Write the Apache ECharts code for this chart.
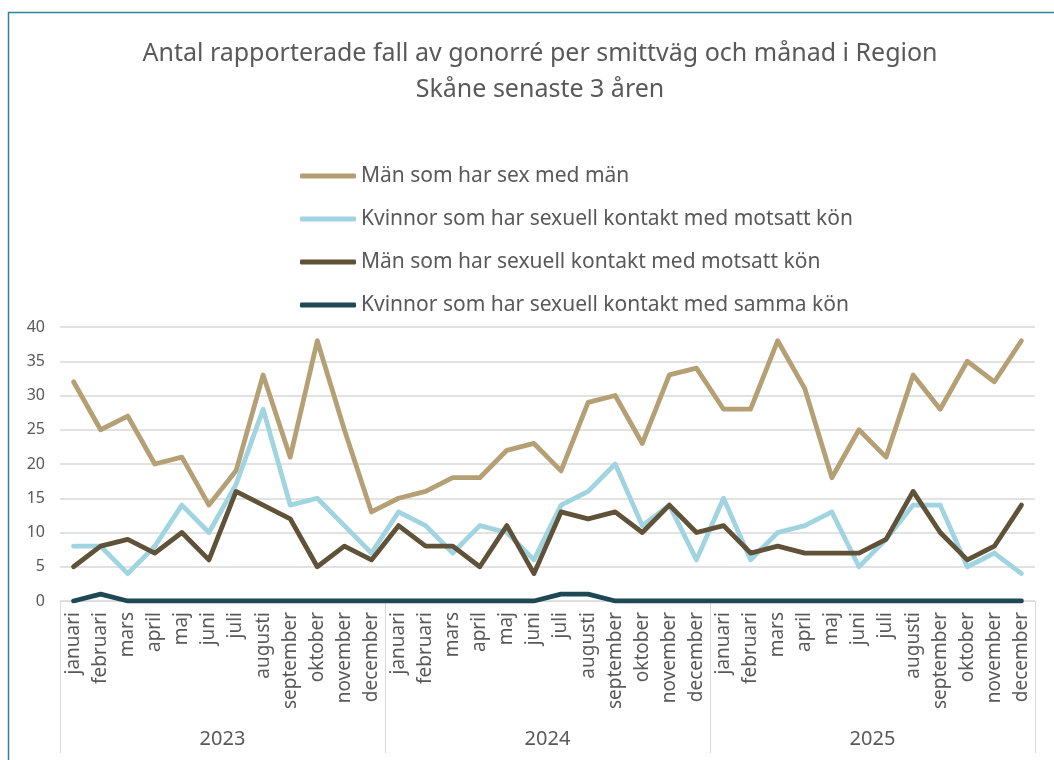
<!DOCTYPE html>
<html>
<head>
<meta charset="utf-8">
<script src="https://cdn.jsdelivr.net/npm/echarts@6/dist/echarts.min.js"></script>
<style>
  html, body { margin: 0; padding: 0; background: #fff; }
  #chart { width: 1054px; height: 760px; }
</style>
</head>
<body>
<div id="chart"></div>
<script>
// kategorier
const years = ['2023', '2024', '2025']
const monthNames = ['januari', 'februari', 'mars', 'april', 'maj', 'juni', 'juli',
  'augusti', 'september', 'oktober', 'november', 'december']
const months = years.flatMap(() => monthNames)

const seriesNames = [
  'Män som har sex med män',
  'Kvinnor som har sexuell kontakt med motsatt kön',
  'Män som har sexuell kontakt med motsatt kön',
  'Kvinnor som har sexuell kontakt med samma kön'
]

// 2023, 2024, 2025
const msm = [
  32, 25, 27, 20, 21, 14, 19, 33, 21, 38, 25, 13,
  15, 16, 18, 18, 22, 23, 19, 29, 30, 23, 33, 34,
  28, 28, 38, 31, 18, 25, 21, 33, 28, 35, 32, 38
]
const kvinnorMotsatt = [
  8, 8, 4, 8, 14, 10, 17, 28, 14, 15, 11, 7,
  13, 11, 7, 11, 10, 6, 14, 16, 20, 11, 14, 6,
  15, 6, 10, 11, 13, 5, 9, 14, 14, 5, 7, 4
]
const manMotsatt = [
  5, 8, 9, 7, 10, 6, 16, 14, 12, 5, 8, 6,
  11, 8, 8, 5, 11, 4, 13, 12, 13, 10, 14, 10,
  11, 7, 8, 7, 7, 7, 9, 16, 10, 6, 8, 14
]
const kvinnorSamma = [
  0, 1, 0, 0, 0, 0, 0, 0, 0, 0, 0, 0,
  0, 0, 0, 0, 0, 0, 1, 1, 0, 0, 0, 0,
  0, 0, 0, 0, 0, 0, 0, 0, 0, 0, 0, 0
]

const colors = ['#b4a074', '#a0d4e0', '#605238', '#1e4954']
const textColor = '#595959'
const font = 'Noto Sans'

const chart = echarts.init(document.getElementById('chart'))

function line(name, data, color) {
  return {
    name: name,
    type: 'line',
    xAxisIndex: 0,
    data: data,
    symbol: 'none',
    animation: false,
    lineStyle: { width: 4.8, color: color, cap: 'round', join: 'round' },
    itemStyle: { color: color }
  }
}

chart.setOption({
  textStyle: { fontFamily: font },
  title: {
    text: 'Antal rapporterade fall av gonorré per smittväg och månad i Region\nSkåne senaste 3 åren',
    left: 535,
    textAlign: 'center',
    top: 31,
    textStyle: {
      color: textColor,
      fontSize: 25,
      fontWeight: 'normal',
      lineHeight: 36,
      fontFamily: font
    }
  },
  legend: {
    orient: 'vertical',
    left: 295,
    top: 160,
    itemWidth: 56,
    itemHeight: 5,
    itemGap: 21,
    icon: 'roundRect',
    data: seriesNames,
    textStyle: { color: textColor, fontSize: 21, lineHeight: 22, padding: [0, 0, 0, 0] }
  },
  grid: {
    left: 60,
    right: 19,
    top: 327,
    bottom: 159,
    containLabel: false
  },
  graphic: [
    {
      type: 'rect',
      left: 6,
      top: 10,
      shape: { width: 1200, height: 900 },
      style: { fill: 'none', stroke: '#2b8499', lineWidth: 1.5 },
      silent: true
    }
  ],
  xAxis: [
    {
      type: 'category',
      position: 'bottom',
      data: months,
      axisLine: { show: true, lineStyle: { color: '#d9d9d9', width: 1 } },
      axisTick: { show: false },
      axisLabel: {
        rotate: 90,
        interval: 0,
        margin: 11,
        color: textColor,
        fontSize: 19
      }
    },
    {
      type: 'category',
      position: 'bottom',
      data: years,
      axisLine: { show: false },
      axisTick: { show: true, length: 152, lineStyle: { color: '#d9d9d9', width: 1 } },
      axisLabel: {
        margin: 128,
        color: textColor,
        fontSize: 20
      }
    }
  ],
  yAxis: {
    type: 'value',
    min: 0,
    max: 40,
    interval: 5,
    axisLine: { show: false },
    axisTick: { show: false },
    axisLabel: { color: textColor, fontSize: 16, margin: 15 },
    splitLine: { lineStyle: { color: '#d9d9d9', width: 1.5 } }
  },
  series: [
    line(seriesNames[0], msm, colors[0]),
    line(seriesNames[1], kvinnorMotsatt, colors[1]),
    line(seriesNames[2], manMotsatt, colors[2]),
    line(seriesNames[3], kvinnorSamma, colors[3])
  ]
})
</script>
</body>
</html>
